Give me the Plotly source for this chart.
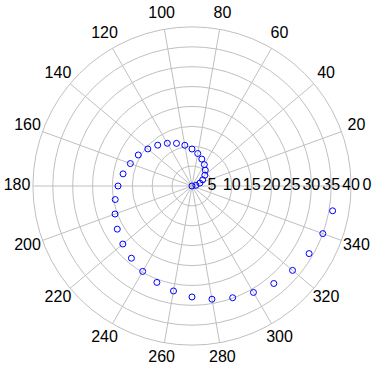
import plotly.graph_objects as go

# angle (degrees) and radius of each plotted point
theta_deg = [0, 10, 20, 30, 40, 50, 60, 70, 80, 90, 100, 110, 120, 130, 140, 150, 160, 170,
             180, 190, 200, 210, 220, 230, 240, 250, 260, 270, 280, 290, 300, 310, 320, 330, 340, 350]
r_vals = [0.0, 1.0, 2.1, 3.1, 4.2, 5.2, 6.2, 7.2, 8.3, 9.3, 10.4, 11.4, 12.4, 13.4, 14.5, 15.6, 16.5, 17.6,
          18.6, 19.6, 20.6, 21.7, 22.7, 23.7, 24.8, 25.8, 26.8, 27.9, 28.9, 29.9, 30.9, 32.0, 33.0, 34.0, 35.0, 35.9]

radial_ticks = [5, 10, 15, 20, 25, 30, 35, 40]
angular_ticks = list(range(0, 360, 20))
R_MAX = 40
LABEL_R = 44  # angle labels sit at 1.1 x the outer radius

FONT = "Liberation Sans, Arial, sans-serif"
GRID = "#c0c0c0"

# polar2 (labels only) spans the full plot area; polar (grid + data) is scaled by R_MAX/LABEL_R
inner = R_MAX / LABEL_R
pad = (1 - inner) / 2

fig = go.Figure()
fig.add_trace(go.Scatterpolar(
    r=r_vals, theta=theta_deg, mode="markers",
    marker=dict(symbol="circle-open", size=6, color="#0000ff", line=dict(width=1, color="#0000ff")),
    hoverinfo="skip", showlegend=False, subplot="polar",
))
fig.add_trace(go.Scatterpolar(
    r=radial_ticks, theta=[0] * len(radial_ticks), mode="text",
    text=[str(v) for v in radial_ticks], textposition="middle center",
    textfont=dict(family=FONT, size=16, color="black"),
    hoverinfo="skip", showlegend=False, subplot="polar",
))
fig.add_trace(go.Scatterpolar(
    r=[LABEL_R] * len(angular_ticks), theta=angular_ticks, mode="text",
    text=[str(a) for a in angular_ticks], textposition="middle center",
    textfont=dict(family=FONT, size=16, color="black"),
    cliponaxis=False, hoverinfo="skip", showlegend=False, subplot="polar2",
))

fig.update_layout(
    width=381, height=371,
    margin=dict(l=17, r=14, t=11, b=10),
    paper_bgcolor="white", plot_bgcolor="white",
    font=dict(family=FONT, size=16, color="black"),
    polar=dict(
        domain=dict(x=[pad, 1 - pad], y=[pad, 1 - pad]),
        bgcolor="white",
        radialaxis=dict(range=[0, R_MAX], tickvals=radial_ticks, showticklabels=False, ticks="",
                        showline=False, gridcolor=GRID, gridwidth=1, angle=0),
        angularaxis=dict(direction="counterclockwise", rotation=0, tickmode="array",
                         tickvals=angular_ticks, showticklabels=False,
                         ticks="", showline=True, linecolor=GRID, linewidth=1,
                         gridcolor=GRID, gridwidth=1),
    ),
    polar2=dict(
        domain=dict(x=[0, 1], y=[0, 1]),
        bgcolor="rgba(0,0,0,0)",
        radialaxis=dict(range=[0, LABEL_R], visible=False),
        angularaxis=dict(direction="counterclockwise", rotation=0, visible=False),
    ),
)
fig.write_html("out.html")
